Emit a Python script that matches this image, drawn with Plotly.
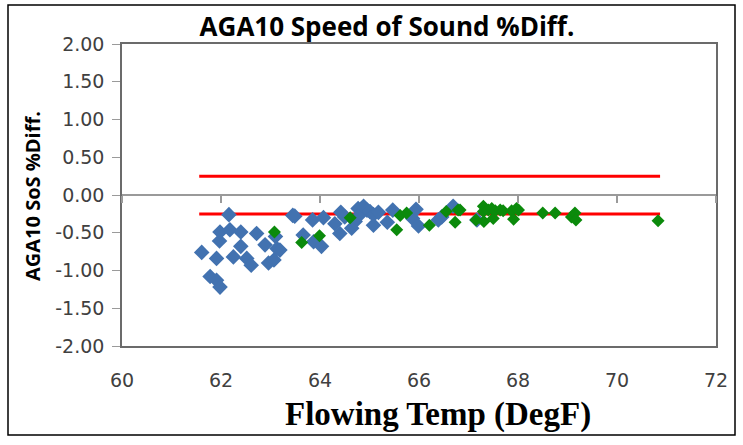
import plotly.graph_objects as go

# Blue series (flowing temp, SoS %diff)
blue_x = [61.61, 61.78, 61.91, 61.98, 61.91, 61.97, 61.98, 62.16, 62.18, 62.25,
          62.40, 62.40, 62.52, 62.61, 62.72, 62.89, 62.96, 63.07, 63.10, 63.13,
          63.19, 63.45, 63.49, 63.66, 63.87, 63.85, 64.03, 64.07, 64.30, 64.40,
          64.42, 64.50, 64.64, 64.71, 64.77, 64.82, 64.88, 64.95, 65.01, 65.08,
          65.08, 65.18, 65.36, 65.47, 65.87, 65.94, 65.99, 66.39, 66.46, 66.69,
          67.17]
blue_y = [-0.76, -1.08, -1.13, -1.22, -0.84, -0.61, -0.49, -0.26, -0.46, -0.82,
          -0.49, -0.68, -0.84, -0.93, -0.51, -0.66, -0.90, -0.86, -0.55, -0.71,
          -0.73, -0.27, -0.28, -0.53, -0.62, -0.33, -0.68, -0.30, -0.38, -0.51,
          -0.23, -0.29, -0.44, -0.35, -0.18, -0.25, -0.15, -0.20, -0.22, -0.26,
          -0.40, -0.23, -0.36, -0.20, -0.31, -0.19, -0.41, -0.33, -0.29, -0.15,
          -0.33]

# Green series
green_x = [63.08, 63.63, 63.99, 64.61, 65.55, 65.62, 65.75, 66.21, 66.55, 66.73,
           66.79, 66.83, 67.15, 67.30, 67.30, 67.31, 67.40, 67.47, 67.50, 67.54,
           67.64, 67.70, 67.87, 67.91, 67.97, 68.01, 68.50, 68.75, 69.08, 69.15,
           69.17, 70.83]
green_y = [-0.49, -0.63, -0.54, -0.30, -0.46, -0.27, -0.24, -0.40, -0.22, -0.36,
           -0.20, -0.20, -0.33, -0.15, -0.22, -0.35, -0.20, -0.18, -0.31, -0.21,
           -0.20, -0.21, -0.21, -0.32, -0.18, -0.20, -0.24, -0.24, -0.29, -0.24,
           -0.33, -0.34]

# Limit lines
limit_x = [61.56, 70.87]
upper_limit = [0.25, 0.25]
lower_limit = [-0.25, -0.25]

x_ticks = [60, 62, 64, 66, 68, 70, 72]
y_ticks = [2.0, 1.5, 1.0, 0.5, 0.0, -0.5, -1.0, -1.5, -2.0]

fig = go.Figure()
fig.add_trace(go.Scatter(x=limit_x, y=upper_limit, mode="lines",
                         line=dict(color="#FF0000", width=3), showlegend=False))
fig.add_trace(go.Scatter(x=limit_x, y=lower_limit, mode="lines",
                         line=dict(color="#FF0000", width=3), showlegend=False))
fig.add_trace(go.Scatter(x=blue_x, y=blue_y, mode="markers",
                         marker=dict(symbol="diamond", size=12, color="#4272B0"),
                         showlegend=False))
fig.add_trace(go.Scatter(x=green_x, y=green_y, mode="markers", xaxis="x2",
                         marker=dict(symbol="diamond", size=10, color="#0B8A0B"),
                         showlegend=False))

axis_font = dict(family="DejaVu Sans", size=19, color="#404040")
fig.update_layout(
    width=743, height=445,
    margin=dict(l=122, r=27, t=44, b=99),
    paper_bgcolor="white", plot_bgcolor="white",
    title=dict(text="<b>AGA10 Speed of Sound %Diff.</b>",
               font=dict(family="Open Sans", size=26, color="#000000"),
               x=387/743, xref="container", xanchor="center",
               y=1-27/445, yref="container", yanchor="middle"),
    xaxis=dict(range=[60, 72], tickvals=x_ticks, ticktext=[str(v) for v in x_ticks],
               showgrid=False, zeroline=False, showline=True, mirror=True,
               linecolor="#6b6b6b", linewidth=1.5, ticks="",
               ticklabelstandoff=16, tickfont=axis_font),
    xaxis2=dict(range=[60, 72], overlaying="x", anchor="free", position=0.5,
                side="bottom", tickvals=x_ticks, showticklabels=False,
                showgrid=False, zeroline=False, showline=True,
                linecolor="#9a9a9a", linewidth=1.5,
                ticks="outside", ticklen=7, tickcolor="#9a9a9a", tickwidth=1.5),
    yaxis=dict(range=[-2, 2], tickvals=y_ticks,
               ticktext=[f"{v:.2f}" for v in y_ticks],
               showgrid=False, zeroline=False, showline=True, mirror=True,
               linecolor="#6b6b6b", linewidth=1.5,
               ticks="outside", ticklen=8, tickcolor="#9a9a9a",
               ticklabelstandoff=4, tickfont=axis_font),
    annotations=[
        dict(text="<b>Flowing Temp (DegF)</b>", xref="paper", yref="paper",
             x=(438-122)/594, y=(346-414)/302, xanchor="center", yanchor="middle",
             showarrow=False,
             font=dict(family="Liberation Serif", size=33, color="#000000")),
        dict(text="<b>AGA10 SoS %Diff.</b>", xref="paper", yref="paper",
             x=(32-122)/594, y=(346-196)/302, xanchor="center", yanchor="middle",
             textangle=-90, showarrow=False,
             font=dict(family="Open Sans", size=20, color="#000000")),
    ],
    shapes=[dict(type="rect", xref="paper", yref="paper",
                 x0=-114/594, x1=(735-122)/594, y0=-(435-346)/302, y1=1+39/302,
                 line=dict(color="#000000", width=1.5), fillcolor="rgba(0,0,0,0)",
                 layer="below")],
)

fig.write_html("out.html")
